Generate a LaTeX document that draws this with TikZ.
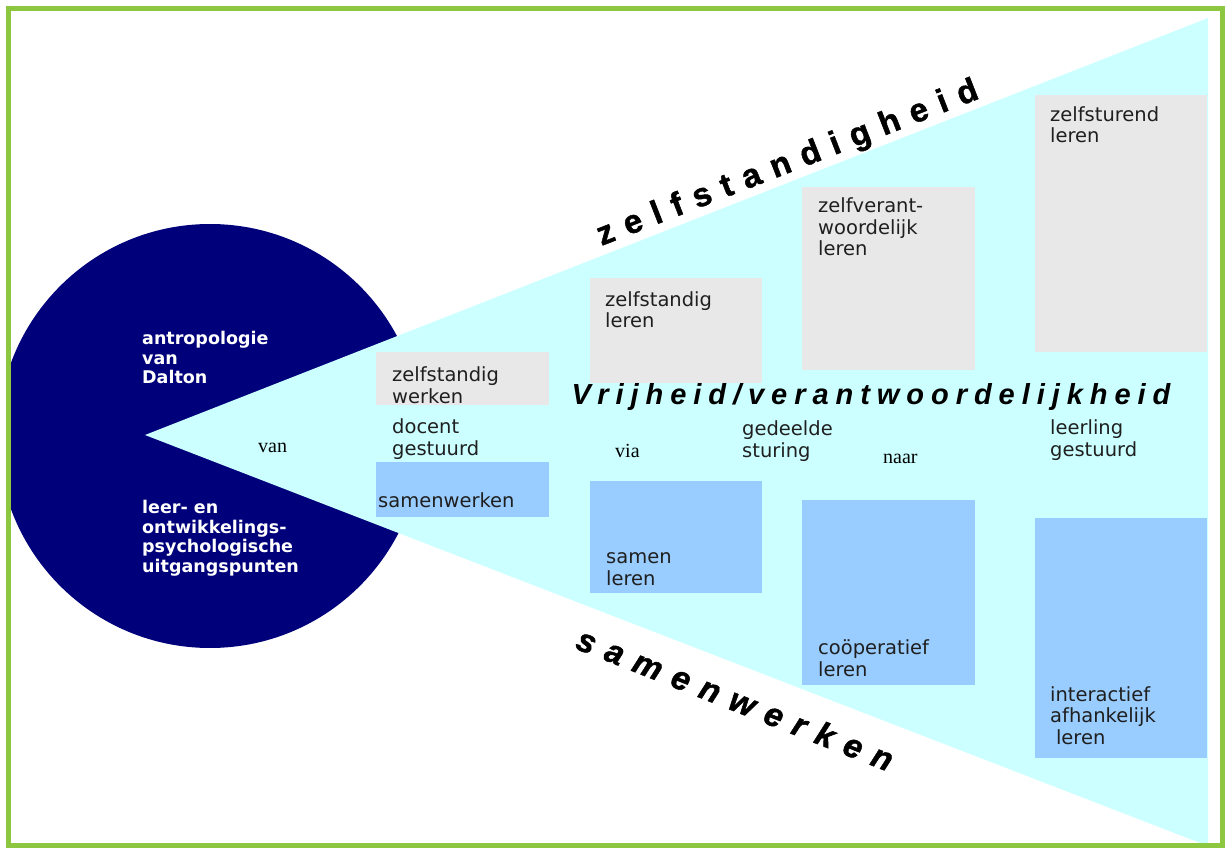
\documentclass[tikz,border=0pt]{standalone}
\usepackage{fontspec}
\setmainfont{DejaVu Sans}
\newfontfamily\smallserif{Liberation Serif}
\newfontfamily\freefont[LetterSpace=24]{Liberation Sans}
\newfontfamily\axisfont[LetterSpace=36,BoldFeatures={FakeBold=1.5},
  BoldItalicFeatures={FakeBold=1.5}]{Liberation Sans}
\usetikzlibrary{positioning}
\definecolor{daltonnavy}{HTML}{00007B}
\definecolor{fancyan}{HTML}{CCFFFF}
\definecolor{boxgrey}{HTML}{E8E8E8}
\definecolor{boxblue}{HTML}{99CCFF}
\definecolor{framegreen}{HTML}{8DC63F}
\begin{document}
\begin{tikzpicture}[x=1pt,y=-1pt,
  boxtxt/.style={anchor=base west,align=left,inner sep=0pt,text=black!88,
    font=\fontsize{19.5}{21.5}\selectfont},
  circtxt/.style={anchor=base west,align=left,inner sep=0pt,text=white,
    font=\bfseries\fontsize{17.5}{19.5}\selectfont},
  steptxt/.style={anchor=base west,inner sep=0pt,font=\smallserif\fontsize{20}{22}\selectfont},
  axistxt/.style={anchor=base,inner sep=0pt,font=\axisfont\bfseries\fontsize{33}{35}\selectfont}]
  \useasboundingbox (0,0) rectangle (1227,850);
  % Dalton circle with the fan cut out of it
  \begin{scope}
    \clip (8.5,8.5) rectangle (1222.5,845.5);
    \fill[daltonnavy] (210,436) circle (212);
  \end{scope}
  \fill[fancyan] (145,435) -- (1208,18) -- (1208,846) -- cycle;
  % grey boxes (zelfstandigheid)
  \fill[boxgrey] (376,352) rectangle (549,405);
  \fill[boxgrey] (590,278) rectangle (762,383);
  \fill[boxgrey] (802,187) rectangle (975,370);
  \fill[boxgrey] (1035,95) rectangle (1207,352);
  % blue boxes (samenwerken)
  \fill[boxblue] (376,462) rectangle (549,517);
  \fill[boxblue] (590,481) rectangle (762,593);
  \fill[boxblue] (802,500) rectangle (975,685);
  \fill[boxblue] (1035,518) rectangle (1207,758);
  % circle texts (placed at the baseline of their last line)
  \node[circtxt] (anthro) at (142,384) {antropologie\\van\\Dalton};
  \node[circtxt] (psych) at (142,572) {leer- en\\ontwikkelings-\\psychologische\\uitgangspunten};
  % van / via / naar
  \node[steptxt] (van) at (258,452) {van};
  \node[steptxt] (via) at (615,457) {via};
  \node[steptxt] (naar) at (883,463) {naar};
  % box texts
  \node[boxtxt] (zwerken) at (392,403) {zelfstandig\\werken};
  \node[boxtxt] (docent) at (392,455) {docent\\gestuurd};
  \node[boxtxt] (swerken) at (378,507) {samenwerken};
  \node[boxtxt] (zleren) at (605,328) {zelfstandig\\leren};
  \node[boxtxt] (zverant) at (818,256) {zelfverant-\\woordelijk\\leren};
  \node[boxtxt] (zsturend) at (1050,143) {zelfsturend\\leren};
  \node[boxtxt] (gedeeld) at (742,457) {gedeelde\\sturing};
  \node[boxtxt] (leerling) at (1050,456) {leerling\\gestuurd};
  \node[boxtxt] (sleren) at (606,585) {samen\\leren};
  \node[boxtxt] (coop) at (818,676) {coöperatief\\leren};
  \node[boxtxt] (interact) at (1050,744) {interactief\\afhankelijk\\\hspace*{0.3em}leren};
  % axis labels
  \node[axistxt,rotate=21.3] (zelfst) at (791,172) {zelfstandigheid};
  \node[axistxt,rotate=-21.5,font=\axisfont\bfseries\itshape\fontsize{33}{35}\selectfont]
    (samen) at (731,710) {samenwerken};
  \node[anchor=base,inner sep=0pt,font=\freefont\bfseries\itshape\fontsize{29}{31}\selectfont]
    (vrijheid) at (871,405) {Vrijheid/verantwoordelijkheid};
  % frame
  \draw[framegreen,line width=5pt] (8.5,8.5) rectangle (1222.5,845.5);
\end{tikzpicture}
\end{document}
